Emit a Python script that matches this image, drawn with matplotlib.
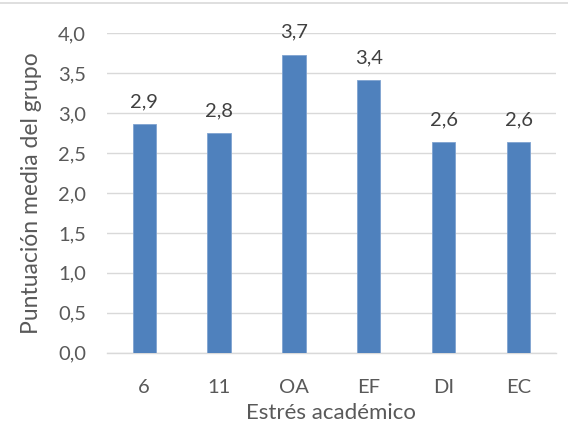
import matplotlib
matplotlib.use("Agg")
import matplotlib.pyplot as plt
from matplotlib.lines import Line2D

# Mean group score per academic-stress dimension
categories = ["6", "11", "OA", "EF", "DI", "EC"]
scores = [2.86, 2.75, 3.73, 3.41, 2.64, 2.64]
y_ticks = [0.0, 0.5, 1.0, 1.5, 2.0, 2.5, 3.0, 3.5, 4.0]

text_color = "#595959"
bar_color = "#4F81BD"
grid_color = "#D9D9D9"

plt.rcParams["font.family"] = ["Lato", "DejaVu Sans"]

fig = plt.figure(figsize=(5.68, 4.25), dpi=100)
ax = fig.add_axes([0.188, 0.170, 0.791, 0.752])

x = range(len(categories))
bars = ax.bar(x, scores, width=0.31, color=bar_color, edgecolor="#7FA3D0",
              linewidth=0.6, zorder=3)

for rect, val in zip(bars, scores):
    ax.annotate(f"{val:.1f}".replace(".", ","),
                xy=(rect.get_x() + rect.get_width() / 2, rect.get_height()),
                xytext=(0, 10), textcoords="offset points",
                ha="center", va="bottom", fontsize=14.5, color="#404040")

ax.set_xlim(-0.5, len(categories) - 0.5)
ax.set_ylim(0, 4.0)
ax.set_yticks(y_ticks)
ax.set_yticklabels([f"{t:.1f}".replace(".", ",") for t in y_ticks])
ax.set_xticks(list(x))
ax.set_xticklabels(categories)

ax.grid(axis="y", color=grid_color, linewidth=1.0, zorder=0)
for side in ["top", "right", "left"]:
    ax.spines[side].set_visible(False)
ax.spines["bottom"].set_color(grid_color)
ax.spines["bottom"].set_linewidth(1.0)
ax.tick_params(axis="both", length=0, labelsize=14.5, colors=text_color)
ax.tick_params(axis="y", pad=15)
ax.tick_params(axis="x", pad=19)

ax.set_xlabel("Estrés académico", fontsize=16, color=text_color, labelpad=5)
ax.set_ylabel("Puntuación media del grupo", fontsize=16.5, color=text_color)
ax.yaxis.set_label_coords(-0.145, 0.5)

# Thin frame line along the top edge of the figure
fig.add_artist(Line2D([0, 1], [0.993, 0.993], transform=fig.transFigure,
                      color="#D9D9D9", linewidth=1.2))

fig.savefig("out.png", dpi=100)
